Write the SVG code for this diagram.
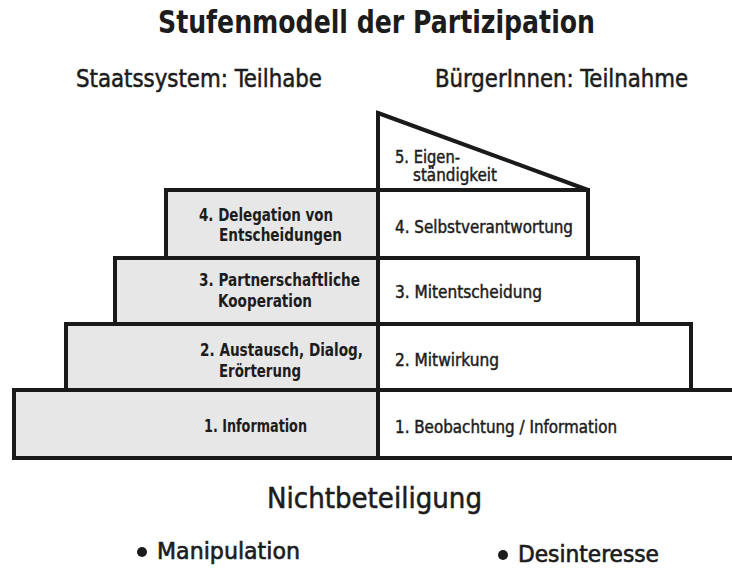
<svg xmlns="http://www.w3.org/2000/svg" width="732" height="571" viewBox="0 0 732 571">
<style>
text{font-family:"Liberation Sans Narrow","DejaVu Sans Condensed","Liberation Sans",Arial,sans-serif;fill:#1c1c1c}
.title{font-size:32px;font-weight:bold}
.head{font-size:24px;stroke:#1c1c1c;stroke-width:0.5}
.lbl{font-size:17px;font-weight:bold}
.rlbl{font-size:17px;stroke:#1c1c1c;stroke-width:0.45}
.big{font-size:28px;stroke:#1c1c1c;stroke-width:0.5}
.item{font-size:23px;stroke:#1c1c1c;stroke-width:0.6}
.gray{fill:#e7e7e7;stroke:#1a1a1a;stroke-width:4}
.white{fill:#ffffff;stroke:#1a1a1a;stroke-width:4}
</style>
<rect width="732" height="571" fill="#ffffff"/>
<text class="title" x="158" y="33" textLength="437" lengthAdjust="spacingAndGlyphs">Stufenmodell der Partizipation</text>
<text class="head" x="76" y="87" textLength="246" lengthAdjust="spacingAndGlyphs">Staatssystem: Teilhabe</text>
<text class="head" x="435" y="87" textLength="253" lengthAdjust="spacingAndGlyphs">BürgerInnen: Teilnahme</text>

<g id="level1-left">
<rect class="gray" x="14" y="390" width="364" height="68"/>
<text class="lbl" x="204" y="432" textLength="103" lengthAdjust="spacingAndGlyphs">1. Information</text>
</g>
<g id="level1-right">
<rect class="white" x="378" y="390" width="360" height="68"/>
<text class="rlbl" x="395" y="433" textLength="222" lengthAdjust="spacingAndGlyphs">1. Beobachtung / Information</text>
</g>

<g id="level2-left">
<rect class="gray" x="66" y="324" width="312" height="66"/>
<text class="lbl" x="200" y="356" textLength="163" lengthAdjust="spacingAndGlyphs">2. Austausch, Dialog,</text>
<text class="lbl" x="219" y="377" textLength="82" lengthAdjust="spacingAndGlyphs">Erörterung</text>
</g>
<g id="level2-right">
<rect class="white" x="378" y="324" width="313" height="66"/>
<text class="rlbl" x="395" y="366" textLength="104" lengthAdjust="spacingAndGlyphs">2. Mitwirkung</text>
</g>

<g id="level3-left">
<rect class="gray" x="115" y="258" width="263" height="66"/>
<text class="lbl" x="199" y="286" textLength="161" lengthAdjust="spacingAndGlyphs">3. Partnerschaftliche</text>
<text class="lbl" x="218" y="307" textLength="94" lengthAdjust="spacingAndGlyphs">Kooperation</text>
</g>
<g id="level3-right">
<rect class="white" x="378" y="258" width="260" height="66"/>
<text class="rlbl" x="395" y="298" textLength="147" lengthAdjust="spacingAndGlyphs">3. Mitentscheidung</text>
</g>

<g id="level4-left">
<rect class="gray" x="166" y="190" width="212" height="68"/>
<text class="lbl" x="199" y="221" textLength="134" lengthAdjust="spacingAndGlyphs">4. Delegation von</text>
<text class="lbl" x="219" y="241" textLength="123" lengthAdjust="spacingAndGlyphs">Entscheidungen</text>
</g>
<g id="level4-right">
<rect class="white" x="378" y="190" width="210" height="68"/>
<text class="rlbl" x="395" y="233" textLength="178" lengthAdjust="spacingAndGlyphs">4. Selbstverantwortung</text>
</g>

<g id="level5-right">
<polygon class="white" points="378,113 588,190 378,190" stroke-linejoin="miter"/>
<text class="rlbl" x="395" y="163" textLength="65" lengthAdjust="spacingAndGlyphs">5. Eigen-</text>
<text class="rlbl" x="413" y="181" textLength="84" lengthAdjust="spacingAndGlyphs">ständigkeit</text>
</g>

<g id="nichtbeteiligung">
<text class="big" x="267" y="508" textLength="215" lengthAdjust="spacingAndGlyphs">Nichtbeteiligung</text>
</g>
<g id="manipulation">
<circle cx="142" cy="552" r="5" fill="#1c1c1c"/>
<text class="item" x="157" y="559" textLength="143" lengthAdjust="spacingAndGlyphs">Manipulation</text>
</g>
<g id="desinteresse">
<circle cx="503" cy="555" r="5" fill="#1c1c1c"/>
<text class="item" x="518" y="562" textLength="141" lengthAdjust="spacingAndGlyphs">Desinteresse</text>
</g>
<g id="connectors"></g>
</svg>
